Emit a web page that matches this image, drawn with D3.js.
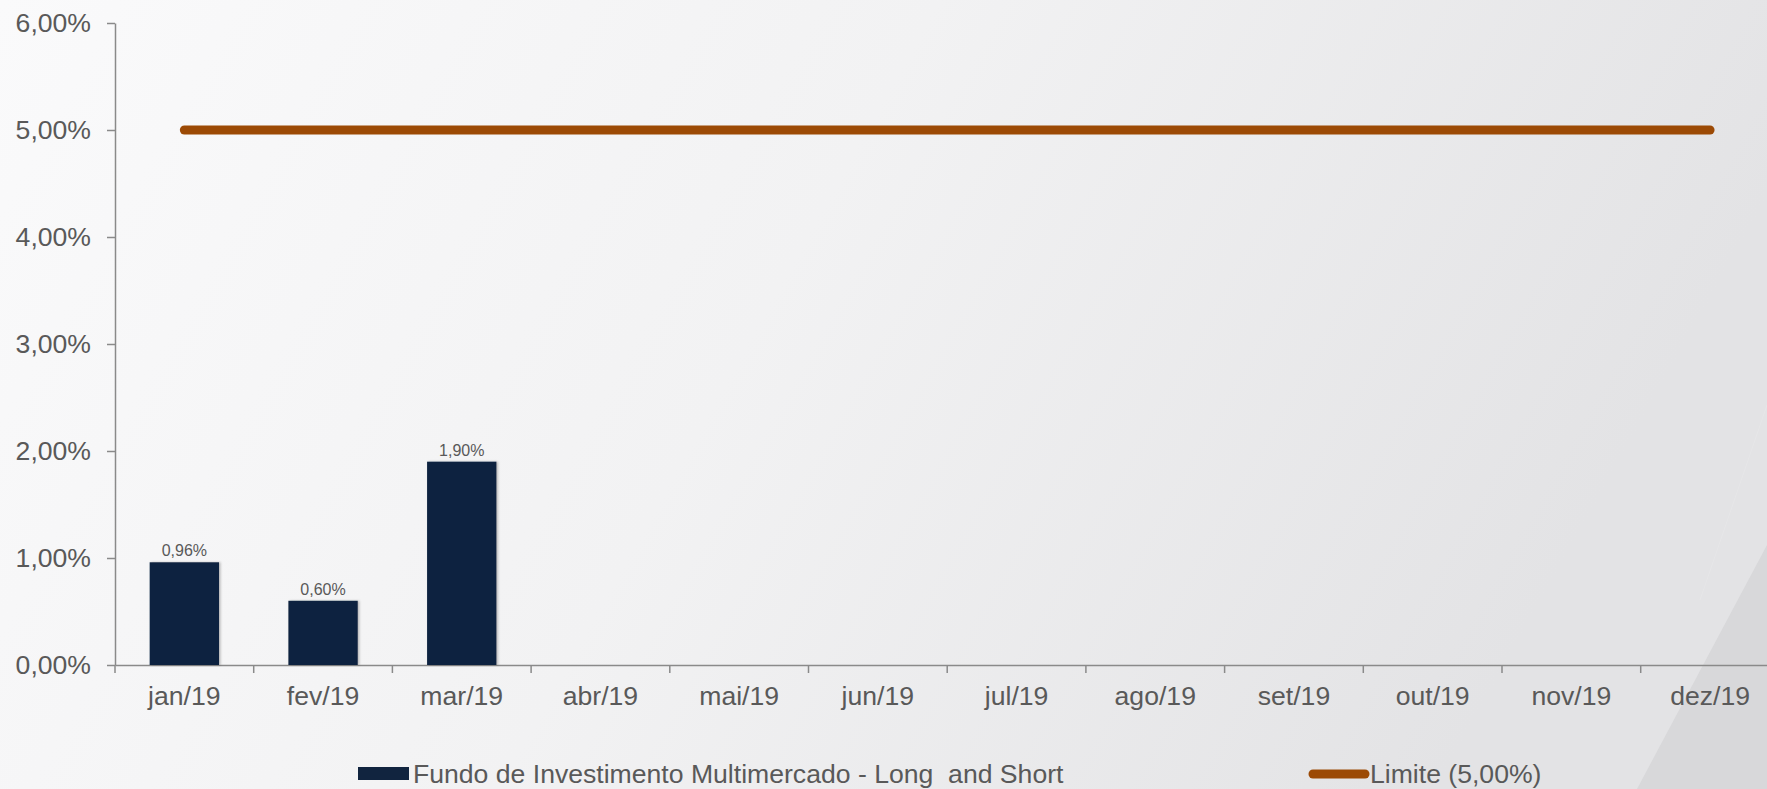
<!DOCTYPE html>
<html>
<head>
<meta charset="utf-8">
<script src="https://cdn.jsdelivr.net/npm/d3@7"></script>
<style>
  html, body { margin: 0; padding: 0; background: #f7f7f8; }
  svg { display: block; font-family: "Liberation Sans", Arial, sans-serif; }
</style>
</head>
<body>
<svg id="chart" width="1767" height="789"></svg>
<script>
// Monthly figures for 2019 (percent)
const months = ["jan/19", "fev/19", "mar/19", "abr/19", "mai/19", "jun/19",
                "jul/19", "ago/19", "set/19", "out/19", "nov/19", "dez/19"];
const fundValues = [0.96, 0.60, 1.90];          // only the first quarter is reported
const limitValues = [5, 5, 5, 5, 5, 5, 5, 5, 5, 5, 5, 5];
const yTicks = [0, 1, 2, 3, 4, 5, 6];
const fundName = "Fundo de Investimento Multimercado - Long  and Short";
const limitName = "Limite (5,00%)";

const W = 1767, H = 789;
const svg = d3.select("#chart");
const fontSize = 26.6;

// Background: soft horizontal grey gradient with a darker wedge in the corner
const defs = svg.append("defs");
const bg = defs.append("linearGradient").attr("id", "bg")
  .attr("x1", 0).attr("y1", 0).attr("x2", 1).attr("y2", 0.25);
bg.append("stop").attr("offset", 0).attr("stop-color", "#fafafb");
bg.append("stop").attr("offset", 0.5).attr("stop-color", "#f2f2f3");
bg.append("stop").attr("offset", 1).attr("stop-color", "#e3e3e5");
const shadow = defs.append("filter").attr("id", "barShadow")
  .attr("x", "-20%").attr("y", "-5%").attr("width", "140%").attr("height", "110%");
shadow.append("feDropShadow").attr("dx", 1.5).attr("dy", 0)
  .attr("stdDeviation", 1.2).attr("flood-color", "#000").attr("flood-opacity", 0.25);

svg.append("rect").attr("width", W).attr("height", H).attr("fill", "url(#bg)");
svg.append("polygon")
  .attr("points", [[1637, H], [W, 545], [W, H]].map(p => p.join(",")).join(" "))
  .attr("fill", "#d8d8da");
svg.append("line")
  .attr("x1", W).attr("y1", 405).attr("x2", 1700).attr("y2", 600)
  .attr("stroke", "#ffffff").attr("stroke-opacity", 0.12).attr("stroke-width", 1);

// Scales
const x0 = 115;
const step = 138.7;
const x = d3.scaleBand().domain(months).range([x0, x0 + step * months.length]).padding(0);
const y = d3.scaleLinear().domain([0, 6]).range([665, 23]);
const textColor = "#595959";
const axisColor = "#8a8a8a";
const fmt = v => v.toFixed(2).replace(".", ",") + "%";

// Y axis
const yAxis = svg.append("g").attr("transform", `translate(${x0},0)`)
  .call(d3.axisLeft(y).tickValues(yTicks).tickSize(8).tickSizeOuter(0)
    .tickPadding(16).tickFormat(fmt));
yAxis.selectAll("path, line").attr("stroke", axisColor).attr("stroke-width", 1.5);
yAxis.selectAll("text").attr("fill", textColor).attr("font-size", fontSize)
  .attr("font-family", "Liberation Sans, Arial, sans-serif");

// X axis: labels centred in each band, tick marks on band boundaries
const xAxis = svg.append("g").attr("transform", `translate(0,${y(0)})`)
  .call(d3.axisBottom(x).tickSize(0).tickSizeOuter(0).tickPadding(21));
xAxis.select("path").attr("stroke", axisColor).attr("stroke-width", 1.5);
xAxis.selectAll("text").attr("fill", textColor).attr("font-size", fontSize)
  .attr("font-family", "Liberation Sans, Arial, sans-serif");
xAxis.selectAll("line.boundary")
  .data(months.map(m => x(m)))
  .join("line").attr("class", "boundary")
  .attr("x1", d => d).attr("x2", d => d)
  .attr("y1", 0).attr("y2", 8)
  .attr("stroke", axisColor).attr("stroke-width", 1.5);

// Bars
const bw = x.bandwidth();
const fundData = fundValues.map((v, i) => ({ m: months[i], v }));
svg.append("g").selectAll("rect").data(fundData).join("rect")
  .attr("x", d => x(d.m) + bw * 0.25)
  .attr("width", bw * 0.5)
  .attr("y", d => y(d.v))
  .attr("height", d => y(0) - y(d.v))
  .attr("fill", "#11243f")
  .attr("filter", "url(#barShadow)");

// Value labels above bars
svg.append("g").selectAll("text").data(fundData).join("text")
  .attr("x", d => x(d.m) + bw / 2)
  .attr("y", d => y(d.v) - 6)
  .attr("text-anchor", "middle")
  .attr("font-size", 16)
  .attr("fill", textColor)
  .text(d => fmt(d.v));

// Limit line
const limitLine = d3.line()
  .x((d, i) => x(months[i]) + bw / 2)
  .y(d => y(d));
svg.append("path").datum(limitValues)
  .attr("d", limitLine)
  .attr("fill", "none")
  .attr("stroke", "#9c4a05")
  .attr("stroke-width", 9)
  .attr("stroke-linecap", "round");

// Legend
const legend = svg.append("g");
legend.append("rect").attr("x", 358).attr("y", 767).attr("width", 51).attr("height", 13)
  .attr("fill", "#11243f");
legend.append("text").attr("x", 413).attr("y", 783)
  .attr("font-size", fontSize).attr("fill", textColor)
  .style("white-space", "pre")
  .text(fundName);
legend.append("line").attr("x1", 1313).attr("x2", 1365).attr("y1", 774).attr("y2", 774)
  .attr("stroke", "#9c4a05").attr("stroke-width", 9).attr("stroke-linecap", "round");
legend.append("text").attr("x", 1370).attr("y", 783)
  .attr("font-size", fontSize).attr("fill", textColor)
  .text(limitName);
</script>
</body>
</html>
